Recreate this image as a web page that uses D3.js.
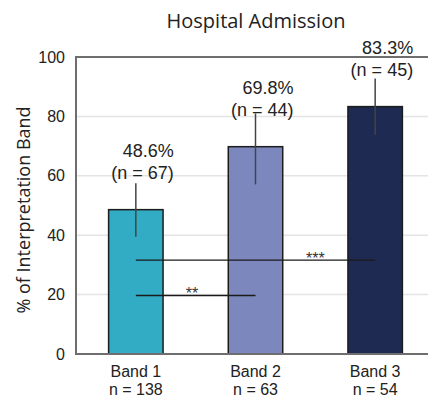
<!DOCTYPE html>
<html>
<head>
<meta charset="utf-8">
<script src="https://cdn.jsdelivr.net/npm/d3@7"></script>
<style>
  body { margin: 0; background: #fff; }
  svg { display: block; }
</style>
</head>
<body>
<div id="chart"></div>
<script>
// data
var bands = ["Band 1", "Band 2", "Band 3"];
var bandN = [138, 63, 54];
var percents = [48.6, 69.8, 83.3];
var hitN = [67, 44, 45];
var errLow = [39.5, 57.1, 73.8];
var errHigh = [57.5, 81.0, 92.8];
var yTicks = [0, 20, 40, 60, 80, 100];
var sigFrom = ["Band 1", "Band 1"];
var sigTo = ["Band 3", "Band 2"];
var sigLevel = [31.6, 19.7];
var sigLabel = ["***", "**"];

function init() {
    var w = 428;
    var h = 398;
    var margin = { top: 57, right: -7, bottom: 44, left: 76 };
    var width = w - margin.left - margin.right;
    var height = h - margin.top - margin.bottom;
    var colors = ["#32acc4", "#7c88bd", "#1f2a53"];

    var svg = d3.select("#chart")
        .append("svg")
        .attr("width", w)
        .attr("height", h);

    var g = svg.append("g")
        .attr("transform", "translate(" + margin.left + "," + margin.top + ")");

    var xScale = d3.scalePoint()
        .domain(bands)
        .range([0, width])
        .padding(0.5);

    var yScale = d3.scaleLinear()
        .domain([0, 100])
        .range([height, 0]);

    var barW = xScale.step() * 0.455;

    // grid
    g.selectAll(".grid")
        .data(yTicks.filter(function(d) { return d > 0 && d < 100; }))
        .enter().append("line")
        .attr("x1", 0)
        .attr("x2", width)
        .attr("y1", function(d) { return yScale(d); })
        .attr("y2", function(d) { return yScale(d); })
        .attr("stroke", "#e4e4e4")
        .attr("stroke-width", 1.5);

    // bars
    g.selectAll(".bar")
        .data(bands)
        .enter().append("rect")
        .attr("x", function(d) { return xScale(d) - barW / 2; })
        .attr("y", function(d, i) { return yScale(percents[i]); })
        .attr("width", barW)
        .attr("height", function(d, i) { return height - yScale(percents[i]); })
        .attr("fill", function(d, i) { return colors[i]; })
        .attr("stroke", "#1c1c1c")
        .attr("stroke-width", 1.5);

    // error bars
    g.selectAll(".err")
        .data(bands)
        .enter().append("line")
        .attr("x1", function(d) { return xScale(d); })
        .attr("x2", function(d) { return xScale(d); })
        .attr("y1", function(d, i) { return yScale(errLow[i]); })
        .attr("y2", function(d, i) { return yScale(errHigh[i]); })
        .attr("stroke", "#444")
        .attr("stroke-width", 1.5);

    // value labels
    var lab = g.selectAll(".vlabel")
        .data(bands)
        .enter().append("text")
        .attr("text-anchor", "end")
        .style("font-family", "'Liberation Sans', Arial, sans-serif")
        .style("font-size", "18px")
        .attr("fill", "#222");
    lab.append("tspan")
        .attr("x", function(d) { return xScale(d) + 38; })
        .attr("y", function(d, i) { return yScale(percents[i]) - 53; })
        .text(function(d, i) { return percents[i].toFixed(1) + "%"; });
    lab.append("tspan")
        .attr("x", function(d) { return xScale(d) + 38; })
        .attr("y", function(d, i) { return yScale(percents[i]) - 31; })
        .text(function(d, i) { return "(n = " + hitN[i] + ")"; });

    // significance brackets
    var labelFrac = [0.75, 0.47];
    sigLabel.forEach(function(s, i) {
        var x1 = xScale(sigFrom[i]);
        var x2 = xScale(sigTo[i]);
        var y = yScale(sigLevel[i]);
        g.append("line")
            .attr("x1", x1).attr("x2", x2)
            .attr("y1", y).attr("y2", y)
            .attr("stroke", "#1a1a1a")
            .attr("stroke-width", 1.3);
        g.append("text")
            .attr("x", x1 + (x2 - x1) * labelFrac[i])
            .attr("y", y + 4)
            .attr("text-anchor", "middle")
            .style("font-family", "'Liberation Sans', Arial, sans-serif")
            .style("font-size", "16px")
            .attr("fill", "#333")
            .text(s);
    });

    // axes frame
    g.append("line")
        .attr("x1", 0).attr("x2", 0)
        .attr("y1", 0).attr("y2", height)
        .attr("stroke", "#6e6e6e")
        .attr("stroke-width", 2);
    g.append("line")
        .attr("x1", -1).attr("x2", width)
        .attr("y1", height).attr("y2", height)
        .attr("stroke", "#6e6e6e")
        .attr("stroke-width", 2);
    g.append("line")
        .attr("x1", -1).attr("x2", width)
        .attr("y1", 0).attr("y2", 0)
        .attr("stroke", "#6e6e6e")
        .attr("stroke-width", 2);

    var yAxis = d3.axisLeft(yScale)
        .tickValues(yTicks)
        .tickSize(0)
        .tickPadding(11);
    var ya = g.append("g").call(yAxis);
    ya.select(".domain").remove();
    ya.selectAll("text")
        .style("font-family", "'Liberation Sans', Arial, sans-serif")
        .style("font-size", "16px")
        .attr("fill", "#222");

    // x labels
    var xl = g.selectAll(".xlabel")
        .data(bands)
        .enter().append("text")
        .attr("text-anchor", "middle")
        .style("font-family", "'Liberation Sans', Arial, sans-serif")
        .style("font-size", "16px")
        .attr("fill", "#222");
    xl.append("tspan")
        .attr("x", function(d) { return xScale(d); })
        .attr("y", height + 23)
        .text(function(d) { return d; });
    xl.append("tspan")
        .attr("x", function(d) { return xScale(d); })
        .attr("y", height + 41)
        .text(function(d, i) { return "n = " + bandN[i]; });

    // title
    svg.append("text")
        .attr("x", 256)
        .attr("y", 28)
        .attr("text-anchor", "middle")
        .style("font-family", "'Open Sans', sans-serif")
        .style("font-size", "20px")
        .attr("fill", "#222")
        .text("Hospital Admission");

    // y label
    svg.append("text")
        .attr("transform", "translate(30," + 210 + ") rotate(-90)")
        .attr("text-anchor", "middle")
        .style("font-family", "'Open Sans', sans-serif")
        .style("font-size", "18px")
        .attr("fill", "#222")
        .text("% of Interpretation Band");
}

window.onload = init;
</script>
</body>
</html>
